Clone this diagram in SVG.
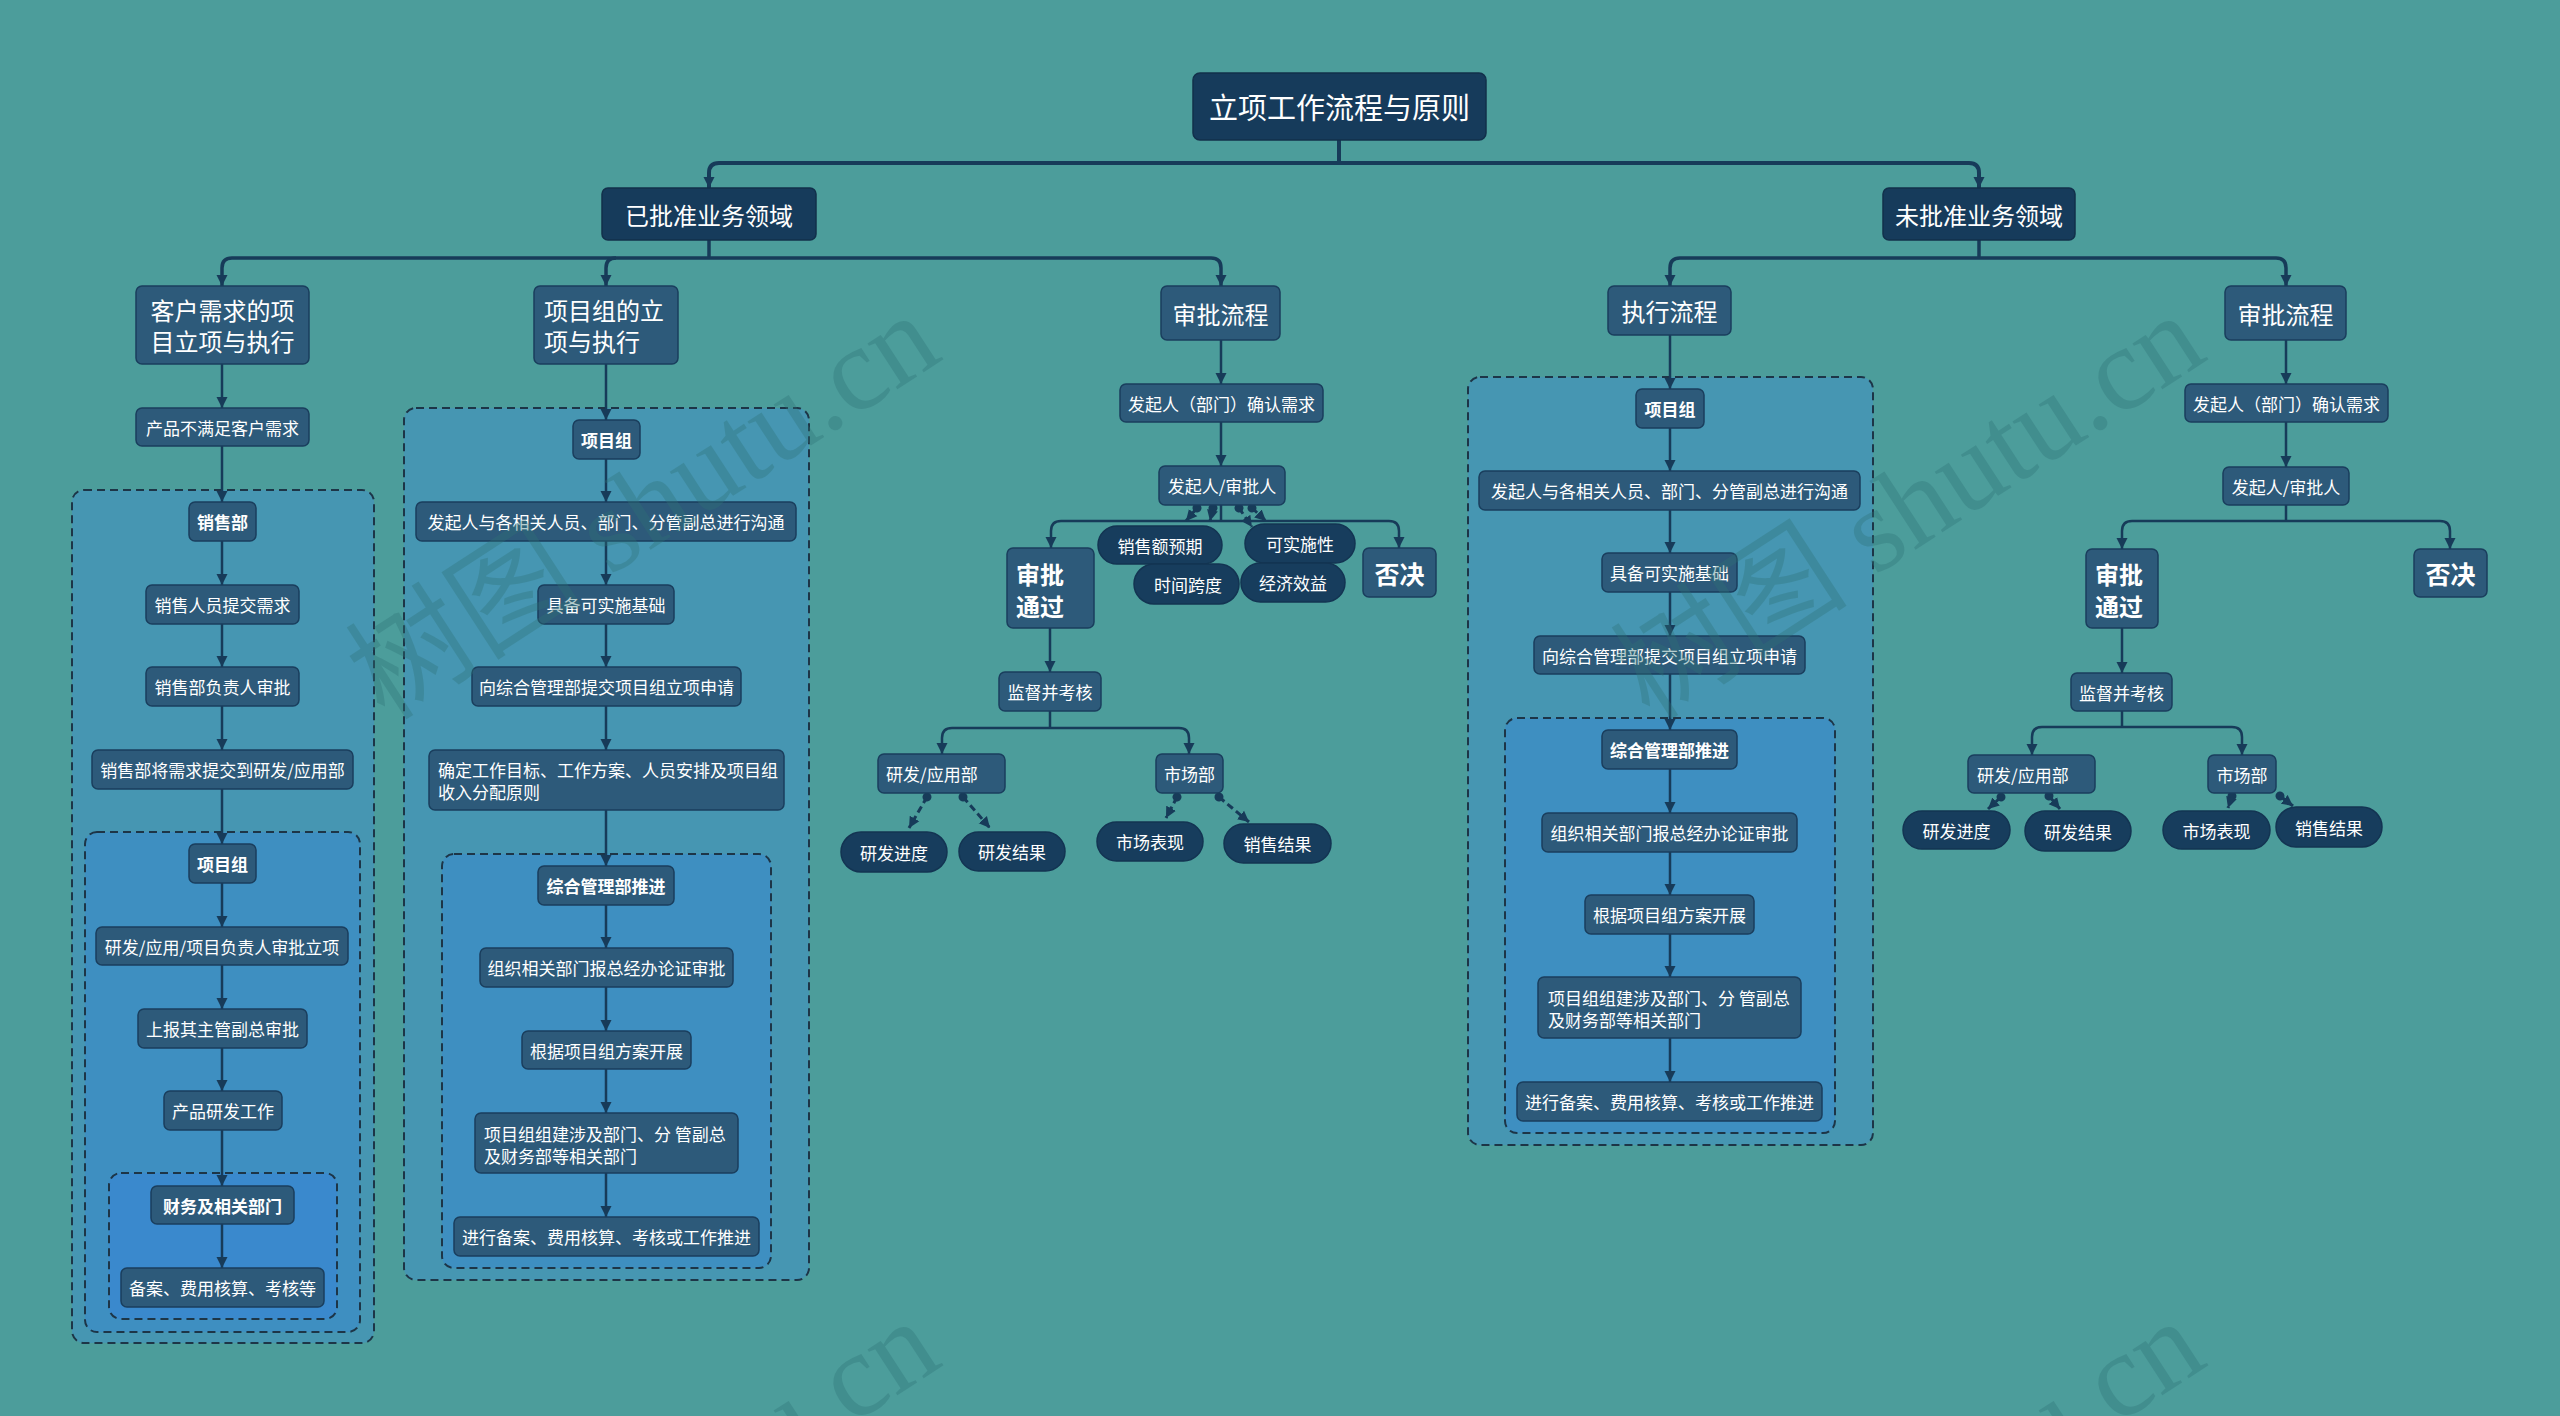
<svg xmlns="http://www.w3.org/2000/svg" width="2560" height="1416" viewBox="0 0 2560 1416">
<defs>
<marker id="arr" markerUnits="userSpaceOnUse" markerWidth="12" markerHeight="12" refX="11" refY="6" orient="auto"><path d="M0,0.5 L11,6 L0,11.5 z" fill="#173b59"/></marker>
<marker id="dot" markerUnits="userSpaceOnUse" markerWidth="10" markerHeight="10" refX="5" refY="5" orient="auto"><circle cx="5" cy="5" r="4.5" fill="#173b59"/></marker>
<style>
.bg{fill:#4c9d9b}
.dk{fill:#163b5b;stroke:#12304b;stroke-width:1.5}
.nd{fill:#2d5a7a;stroke:#1a3e5d;stroke-width:1.5}
.pill{fill:#173d5d;stroke:#133452;stroke-width:1.5}
.c1{fill:#4696b2;stroke:#1d3547;stroke-width:2;stroke-dasharray:8 5}
.c2{fill:#3e8fc1;stroke:#1d3547;stroke-width:2;stroke-dasharray:8 5}
.c3{fill:#3a89cd;stroke:#1d3547;stroke-width:2;stroke-dasharray:8 5}
text{font-family:"Noto Sans CJK SC","Noto Sans",sans-serif;fill:#ffffff;dominant-baseline:central}
.t{font-size:17px;text-anchor:middle}
.tl{font-size:17px;text-anchor:start}
.b{font-size:17px;font-weight:bold;text-anchor:middle}
.big{font-size:24px;text-anchor:middle}
.bigl{font-size:24px;text-anchor:start}
.bb{font-size:24px;font-weight:bold;text-anchor:start}
.bbc{font-size:25px;font-weight:bold;text-anchor:middle}
.ln{fill:none;stroke:#173b59;stroke-width:2.5}
.ln3{fill:none;stroke:#173b59;stroke-width:3.5}
.ln4{fill:none;stroke:#173b59;stroke-width:4}
.dsh{fill:none;stroke:#173b59;stroke-width:3;stroke-dasharray:7 4}
.wm{font-family:"Liberation Serif","Noto Sans CJK SC",serif;font-size:119px;fill:#2f7377;opacity:0.35;dominant-baseline:auto}
</style>
</defs>
<rect class="bg" x="0" y="0" width="2560" height="1416"/>

<g id="containers">
<rect class="c1" x="72" y="490" width="302" height="853" rx="12"/>
<rect class="c2" x="85" y="832" width="275" height="500" rx="12"/>
<rect class="c3" x="109" y="1173" width="228" height="146" rx="12"/>
<rect class="c1" x="404" y="408" width="405" height="872" rx="12"/>
<rect class="c2" x="442" y="854" width="329" height="414" rx="12"/>
<rect class="c1" x="1468" y="377" width="405" height="768" rx="12"/>
<rect class="c2" x="1505" y="718" width="330" height="415" rx="12"/>
</g>

<g id="connectors">
<path class="ln4" d="M1339,140 V163"/>
<path class="ln4" d="M719,163 H1969"/>
<path class="ln4" d="M719,163 Q709,163 709,173 V188" marker-end="url(#arr)"/>
<path class="ln4" d="M1969,163 Q1979,163 1979,173 V188" marker-end="url(#arr)"/>
<path class="ln3" d="M709,240 V258"/>
<path class="ln3" d="M232,258 H1211"/>
<path class="ln3" d="M232,258 Q222,258 222,268 V286" marker-end="url(#arr)"/>
<path class="ln3" d="M616,258 Q606,258 606,268 V286" marker-end="url(#arr)"/>
<path class="ln3" d="M1211,258 Q1221,258 1221,268 V286" marker-end="url(#arr)"/>
<path class="ln3" d="M1979,240 V258"/>
<path class="ln3" d="M1680,258 H2276"/>
<path class="ln3" d="M1680,258 Q1670,258 1670,268 V286" marker-end="url(#arr)"/>
<path class="ln3" d="M2276,258 Q2286,258 2286,268 V286" marker-end="url(#arr)"/>

<path class="ln" d="M222,364 V408" marker-end="url(#arr)"/>
<path class="ln" d="M222,446 V502" marker-end="url(#arr)"/>
<path class="ln" d="M222,541 V585" marker-end="url(#arr)"/>
<path class="ln" d="M222,624 V667" marker-end="url(#arr)"/>
<path class="ln" d="M222,706 V750" marker-end="url(#arr)"/>
<path class="ln" d="M222,789 V844" marker-end="url(#arr)"/>
<path class="ln" d="M222,883 V927" marker-end="url(#arr)"/>
<path class="ln" d="M222,965 V1009" marker-end="url(#arr)"/>
<path class="ln" d="M222,1048 V1091" marker-end="url(#arr)"/>
<path class="ln" d="M222,1130 V1186" marker-end="url(#arr)"/>
<path class="ln" d="M222,1224 V1268" marker-end="url(#arr)"/>

<path class="ln" d="M606,364 V420" marker-end="url(#arr)"/>
<path class="ln" d="M606,459 V502" marker-end="url(#arr)"/>
<path class="ln" d="M606,541 V585" marker-end="url(#arr)"/>
<path class="ln" d="M606,624 V667" marker-end="url(#arr)"/>
<path class="ln" d="M606,706 V750" marker-end="url(#arr)"/>
<path class="ln" d="M606,810 V866" marker-end="url(#arr)"/>
<path class="ln" d="M606,905 V948" marker-end="url(#arr)"/>
<path class="ln" d="M606,987 V1031" marker-end="url(#arr)"/>
<path class="ln" d="M606,1069 V1113" marker-end="url(#arr)"/>
<path class="ln" d="M606,1173 V1217" marker-end="url(#arr)"/>

<path class="ln" d="M1221,340 V384" marker-end="url(#arr)"/>
<path class="ln" d="M1221,422 V466" marker-end="url(#arr)"/>
<path class="ln" d="M1221,505 V521"/>
<path class="ln" d="M1061,521 H1389"/>
<path class="ln" d="M1061,521 Q1051,521 1051,531 V548" marker-end="url(#arr)"/>
<path class="ln" d="M1389,521 Q1399,521 1399,531 V548" marker-end="url(#arr)"/>
<path class="dsh" d="M1197,508 L1186,521" marker-start="url(#dot)" marker-end="url(#arr)"/>
<path class="dsh" d="M1213,508 L1210,521" marker-start="url(#dot)" marker-end="url(#arr)"/>
<path class="dsh" d="M1239,508 L1252,527" marker-start="url(#dot)" marker-end="url(#arr)"/>
<path class="dsh" d="M1252,508 L1266,521" marker-start="url(#dot)" marker-end="url(#arr)"/>
<path class="ln" d="M1050,628 V672" marker-end="url(#arr)"/>
<path class="ln" d="M1050,711 V728"/>
<path class="ln" d="M952,728 H1179"/>
<path class="ln" d="M952,728 Q942,728 942,738 V754" marker-end="url(#arr)"/>
<path class="ln" d="M1179,728 Q1189,728 1189,738 V754" marker-end="url(#arr)"/>
<path class="dsh" d="M927,797 L909,828" marker-start="url(#dot)" marker-end="url(#arr)"/>
<path class="dsh" d="M963,797 L990,828" marker-start="url(#dot)" marker-end="url(#arr)"/>
<path class="dsh" d="M1177,797 L1166,818" marker-start="url(#dot)" marker-end="url(#arr)"/>
<path class="dsh" d="M1219,797 L1249,822" marker-start="url(#dot)" marker-end="url(#arr)"/>

<path class="ln" d="M1670,335 V389" marker-end="url(#arr)"/>
<path class="ln" d="M1670,428 V471" marker-end="url(#arr)"/>
<path class="ln" d="M1670,510 V553" marker-end="url(#arr)"/>
<path class="ln" d="M1670,592 V636" marker-end="url(#arr)"/>
<path class="ln" d="M1670,674 V730" marker-end="url(#arr)"/>
<path class="ln" d="M1670,769 V813" marker-end="url(#arr)"/>
<path class="ln" d="M1670,852 V895" marker-end="url(#arr)"/>
<path class="ln" d="M1670,934 V977" marker-end="url(#arr)"/>
<path class="ln" d="M1670,1038 V1082" marker-end="url(#arr)"/>

<path class="ln" d="M2286,340 V384" marker-end="url(#arr)"/>
<path class="ln" d="M2286,422 V467" marker-end="url(#arr)"/>
<path class="ln" d="M2286,505 V521"/>
<path class="ln" d="M2132,521 H2440"/>
<path class="ln" d="M2132,521 Q2122,521 2122,531 V549" marker-end="url(#arr)"/>
<path class="ln" d="M2440,521 Q2450,521 2450,531 V549" marker-end="url(#arr)"/>
<path class="ln" d="M2122,628 V673" marker-end="url(#arr)"/>
<path class="ln" d="M2122,711 V727"/>
<path class="ln" d="M2042,727 H2232"/>
<path class="ln" d="M2042,727 Q2032,727 2032,737 V755" marker-end="url(#arr)"/>
<path class="ln" d="M2232,727 Q2242,727 2242,737 V755" marker-end="url(#arr)"/>
<path class="dsh" d="M2001,797 L1988,809" marker-start="url(#dot)" marker-end="url(#arr)"/>
<path class="dsh" d="M2049,796 L2060,809" marker-start="url(#dot)" marker-end="url(#arr)"/>
<path class="dsh" d="M2232,796 L2228,808" marker-start="url(#dot)" marker-end="url(#arr)"/>
<path class="dsh" d="M2280,796 L2293,806" marker-start="url(#dot)" marker-end="url(#arr)"/>
</g>

<g id="title"><rect class="dk" x="1193" y="73" width="293" height="67" rx="7"/><text class="big" style="font-size:29px" x="1339.5" y="106">立项工作流程与原则</text></g>
<g id="approved"><rect class="dk" x="602" y="188" width="214" height="52" rx="6"/><text class="big" x="709" y="214">已批准业务领域</text></g>
<g id="unapproved"><rect class="dk" x="1883" y="188" width="192" height="52" rx="6"/><text class="big" x="1979" y="214">未批准业务领域</text></g>

<g id="c1"><rect class="nd" x="136" y="286" width="173" height="78" rx="6"/><text class="big" x="222.5" y="309">客户需求的项</text><text class="big" x="222.5" y="340">目立项与执行</text></g>
<g id="c2"><rect class="nd" x="534" y="286" width="144" height="78" rx="6"/><text class="bigl" x="544" y="309">项目组的立</text><text class="bigl" x="544" y="340">项与执行</text></g>
<g id="c3"><rect class="nd" x="1161" y="286" width="119" height="54" rx="6"/><text class="big" x="1220.5" y="313">审批流程</text></g>
<g id="c4"><rect class="nd" x="1608" y="286" width="123" height="49" rx="6"/><text class="big" x="1669.5" y="310">执行流程</text></g>
<g id="c5"><rect class="nd" x="2225" y="286" width="121" height="54" rx="6"/><text class="big" x="2285.5" y="313">审批流程</text></g>

<g id="n1a"><rect class="nd" x="136" y="408" width="173" height="38" rx="6"/><text class="t" x="222.5" y="427">产品不满足客户需求</text></g>
<g id="n1b"><rect class="nd" x="189" y="502" width="67" height="39" rx="6"/><text class="b" x="222.5" y="521.5">销售部</text></g>
<g id="n1c"><rect class="nd" x="146" y="585" width="153" height="39" rx="6"/><text class="t" x="222.5" y="604.5">销售人员提交需求</text></g>
<g id="n1d"><rect class="nd" x="146" y="667" width="153" height="39" rx="6"/><text class="t" x="222.5" y="686.5">销售部负责人审批</text></g>
<g id="n1e"><rect class="nd" x="92" y="750" width="261" height="39" rx="6"/><text class="t" x="222.5" y="769.5">销售部将需求提交到研发/应用部</text></g>
<g id="n1f"><rect class="nd" x="189" y="844" width="67" height="39" rx="6"/><text class="b" x="222.5" y="863.5">项目组</text></g>
<g id="n1g"><rect class="nd" x="96" y="927" width="252" height="38" rx="6"/><text class="t" x="222" y="946">研发/应用/项目负责人审批立项</text></g>
<g id="n1h"><rect class="nd" x="138" y="1009" width="169" height="39" rx="6"/><text class="t" x="222.5" y="1028.5">上报其主管副总审批</text></g>
<g id="n1i"><rect class="nd" x="164" y="1091" width="118" height="39" rx="6"/><text class="t" x="223" y="1110.5">产品研发工作</text></g>
<g id="n1j"><rect class="nd" x="151" y="1186" width="143" height="38" rx="6"/><text class="b" x="222.5" y="1205">财务及相关部门</text></g>
<g id="n1k"><rect class="nd" x="121" y="1268" width="203" height="39" rx="6"/><text class="t" x="222.5" y="1287.5">备案、费用核算、考核等</text></g>

<g id="n2a"><rect class="nd" x="573" y="420" width="67" height="39" rx="6"/><text class="b" x="606.5" y="439.5">项目组</text></g>
<g id="n2b"><rect class="nd" x="416" y="502" width="380" height="39" rx="6"/><text class="t" x="606" y="521.5">发起人与各相关人员、部门、分管副总进行沟通</text></g>
<g id="n2c"><rect class="nd" x="538" y="585" width="136" height="39" rx="6"/><text class="t" x="606" y="604.5">具备可实施基础</text></g>
<g id="n2d"><rect class="nd" x="472" y="667" width="269" height="39" rx="6"/><text class="t" x="606.5" y="686.5">向综合管理部提交项目组立项申请</text></g>
<g id="n2e"><rect class="nd" x="429" y="750" width="355" height="60" rx="6"/><text class="tl" x="438" y="769">确定工作目标、工作方案、人员安排及项目组</text><text class="tl" x="438" y="791">收入分配原则</text></g>
<g id="n2f"><rect class="nd" x="538" y="866" width="136" height="39" rx="6"/><text class="b" x="606" y="885.5">综合管理部推进</text></g>
<g id="n2g"><rect class="nd" x="480" y="948" width="253" height="39" rx="6"/><text class="t" x="606.5" y="967.5">组织相关部门报总经办论证审批</text></g>
<g id="n2h"><rect class="nd" x="522" y="1031" width="169" height="38" rx="6"/><text class="t" x="606.5" y="1050">根据项目组方案开展</text></g>
<g id="n2i"><rect class="nd" x="475" y="1113" width="263" height="60" rx="6"/><text class="tl" x="484" y="1133">项目组组建涉及部门、分 管副总</text><text class="tl" x="484" y="1155">及财务部等相关部门</text></g>
<g id="n2j"><rect class="nd" x="454" y="1217" width="305" height="39" rx="6"/><text class="t" x="606.5" y="1236.5">进行备案、费用核算、考核或工作推进</text></g>

<g id="n3a"><rect class="nd" x="1120" y="384" width="203" height="38" rx="6"/><text class="t" x="1221.5" y="403">发起人（部门）确认需求</text></g>
<g id="n3b"><rect class="nd" x="1159" y="466" width="126" height="39" rx="6"/><text class="t" x="1222" y="485.5">发起人/审批人</text></g>
<g id="n3c"><rect class="nd" x="1007" y="548" width="87" height="80" rx="6"/><text class="bb" x="1016" y="573">审批</text><text class="bb" x="1016" y="605">通过</text></g>
<g id="n3d"><rect class="nd" x="1363" y="548" width="73" height="49" rx="6"/><text class="bbc" x="1399.5" y="572.5">否决</text></g>
<g id="p3a"><rect class="pill" x="1098" y="526" width="124" height="38" rx="19"/><text class="t" x="1160" y="545">销售额预期</text></g>
<g id="p3b"><rect class="pill" x="1245" y="524" width="110" height="39" rx="19.5"/><text class="t" x="1300" y="543.5">可实施性</text></g>
<g id="p3c"><rect class="pill" x="1134" y="564" width="105" height="40" rx="20"/><text class="t" x="1188" y="584">时间跨度</text></g>
<g id="p3d"><rect class="pill" x="1241" y="563" width="104" height="39" rx="19.5"/><text class="t" x="1293" y="582.5">经济效益</text></g>
<g id="n3e"><rect class="nd" x="999" y="672" width="102" height="39" rx="6"/><text class="t" x="1050" y="691.5">监督并考核</text></g>
<g id="n3f"><rect class="nd" x="878" y="754" width="127" height="39" rx="6"/><text class="tl" x="886" y="773.5">研发/应用部</text></g>
<g id="n3g"><rect class="nd" x="1156" y="754" width="67" height="39" rx="6"/><text class="t" x="1189.5" y="773.5">市场部</text></g>
<g id="p3e"><rect class="pill" x="841" y="832" width="106" height="40" rx="20"/><text class="t" x="894" y="852">研发进度</text></g>
<g id="p3f"><rect class="pill" x="959" y="832" width="106" height="39" rx="19.5"/><text class="t" x="1012" y="851.5">研发结果</text></g>
<g id="p3g"><rect class="pill" x="1097" y="822" width="106" height="39" rx="19.5"/><text class="t" x="1150" y="841.5">市场表现</text></g>
<g id="p3h"><rect class="pill" x="1224" y="824" width="107" height="39" rx="19.5"/><text class="t" x="1277.5" y="843.5">销售结果</text></g>

<g id="n4a"><rect class="nd" x="1636" y="389" width="68" height="39" rx="6"/><text class="b" x="1670" y="408.5">项目组</text></g>
<g id="n4b"><rect class="nd" x="1479" y="471" width="381" height="39" rx="6"/><text class="t" x="1669.5" y="490.5">发起人与各相关人员、部门、分管副总进行沟通</text></g>
<g id="n4c"><rect class="nd" x="1602" y="553" width="135" height="39" rx="6"/><text class="t" x="1669.5" y="572.5">具备可实施基础</text></g>
<g id="n4d"><rect class="nd" x="1534" y="636" width="271" height="38" rx="6"/><text class="t" x="1669.5" y="655">向综合管理部提交项目组立项申请</text></g>
<g id="n4e"><rect class="nd" x="1602" y="730" width="135" height="39" rx="6"/><text class="b" x="1669.5" y="749.5">综合管理部推进</text></g>
<g id="n4f"><rect class="nd" x="1542" y="813" width="255" height="39" rx="6"/><text class="t" x="1669.5" y="832.5">组织相关部门报总经办论证审批</text></g>
<g id="n4g"><rect class="nd" x="1585" y="895" width="169" height="39" rx="6"/><text class="t" x="1669.5" y="914.5">根据项目组方案开展</text></g>
<g id="n4h"><rect class="nd" x="1538" y="977" width="263" height="61" rx="6"/><text class="tl" x="1548" y="997">项目组组建涉及部门、分 管副总</text><text class="tl" x="1548" y="1019">及财务部等相关部门</text></g>
<g id="n4i"><rect class="nd" x="1517" y="1082" width="305" height="39" rx="6"/><text class="t" x="1669.5" y="1101.5">进行备案、费用核算、考核或工作推进</text></g>

<g id="n5a"><rect class="nd" x="2185" y="384" width="203" height="38" rx="6"/><text class="t" x="2286.5" y="403">发起人（部门）确认需求</text></g>
<g id="n5b"><rect class="nd" x="2223" y="467" width="126" height="38" rx="6"/><text class="t" x="2286" y="486">发起人/审批人</text></g>
<g id="n5c"><rect class="nd" x="2086" y="549" width="72" height="79" rx="6"/><text class="bb" x="2095" y="573">审批</text><text class="bb" x="2095" y="605">通过</text></g>
<g id="n5d"><rect class="nd" x="2414" y="549" width="73" height="48" rx="6"/><text class="bbc" x="2450.5" y="573">否决</text></g>
<g id="n5e"><rect class="nd" x="2071" y="673" width="101" height="38" rx="6"/><text class="t" x="2121.5" y="692">监督并考核</text></g>
<g id="n5f"><rect class="nd" x="1968" y="755" width="127" height="38" rx="6"/><text class="tl" x="1977" y="774">研发/应用部</text></g>
<g id="n5g"><rect class="nd" x="2208" y="755" width="68" height="38" rx="6"/><text class="t" x="2242" y="774">市场部</text></g>
<g id="p5a"><rect class="pill" x="1903" y="811" width="107" height="38" rx="19"/><text class="t" x="1956.5" y="830">研发进度</text></g>
<g id="p5b"><rect class="pill" x="2025" y="811" width="106" height="40" rx="20"/><text class="t" x="2078" y="831">研发结果</text></g>
<g id="p5c"><rect class="pill" x="2163" y="811" width="107" height="38" rx="19"/><text class="t" x="2216.5" y="830">市场表现</text></g>
<g id="p5d"><rect class="pill" x="2276" y="807" width="106" height="40" rx="20"/><text class="t" x="2329" y="827">销售结果</text></g>

<g id="watermark">
<text class="wm" transform="translate(385,722) rotate(-33)">树图 shutu.cn</text>
<text class="wm" transform="translate(1650,722) rotate(-33)">树图 shutu.cn</text>
<text class="wm" transform="translate(385,1728) rotate(-33)">树图 shutu.cn</text>
<text class="wm" transform="translate(1650,1728) rotate(-33)">树图 shutu.cn</text>
</g>
</svg>
